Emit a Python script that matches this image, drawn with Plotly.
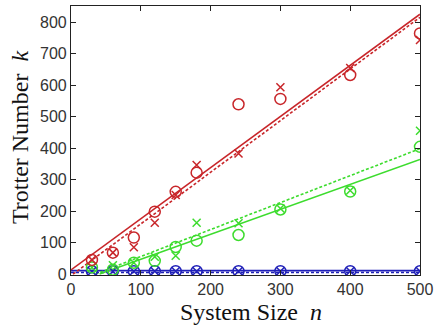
import plotly.graph_objects as go

n = [30, 60, 90, 120, 150, 180, 240, 300, 400, 500]

red_circle = [45, 68, 116, 198, 261, 322, 539, 556, 632, 764]
red_cross = [45, 68, 85, 163, 251, 346, 383, 593, 654, 743]
green_circle = [21, 14, 36, 42, 86, 106, 124, 205, 262, 404]
green_cross = [21, 28, 36, 55, 58, 163, 161, 208, 265, 455]
blue_circle = [9, 9, 9, 9, 9, 9, 9, 9, 9, 9]
blue_cross = [9, 9, 9, 9, 9, 9, 9, 9, 9, 9]

red_solid_n = [0, 500]
red_solid_k = [13, 825]
red_dash_n = [3, 500]
red_dash_k = [0, 815]
green_solid_n = [41, 500]
green_solid_k = [0, 364]
green_dash_n = [35, 500]
green_dash_k = [0, 398]
blue_solid_n = [0, 500]
blue_solid_k = [11, 11]
blue_dash_n = [0, 500]
blue_dash_k = [5, 5]

x_ticks = [0, 100, 200, 300, 400, 500]
y_ticks = [0, 100, 200, 300, 400, 500, 600, 700, 800]

RED = "#c8262a"
GREEN = "#3ddc2e"
BLUE = "#2020b8"

fig = go.Figure()

def line(xs, ys, color, dash):
    fig.add_trace(go.Scatter(x=xs, y=ys, mode="lines",
                             line=dict(color=color, width=1.6, dash=dash),
                             showlegend=False, hoverinfo="skip"))

def marks(xs, ys, color, symbol, size):
    fig.add_trace(go.Scatter(x=xs, y=ys, mode="markers",
                             marker=dict(symbol=symbol, size=size, color=color,
                                         line=dict(color=color, width=1.5)),
                             showlegend=False))

line(blue_solid_n, blue_solid_k, BLUE, "solid")
line(blue_dash_n, blue_dash_k, BLUE, "3px,2px")
line(green_solid_n, green_solid_k, GREEN, "solid")
line(green_dash_n, green_dash_k, GREEN, "3px,2px")
line(red_solid_n, red_solid_k, RED, "solid")
line(red_dash_n, red_dash_k, RED, "3px,2px")

for c, oc, xc in [(BLUE, blue_circle, blue_cross), (GREEN, green_circle, green_cross), (RED, red_circle, red_cross)]:
    marks(n, oc, c, "circle-open", 11)
    marks(n, xc, c, "x-thin-open", 8)

axis_common = dict(showgrid=False, zeroline=False, showline=True, linecolor="#222",
                   linewidth=1.2, mirror="ticks", ticks="inside", ticklen=5,
                   tickcolor="#222", tickwidth=1, automargin=False,
                   tickfont=dict(family="Liberation Sans, Arial", size=16, color="#333"))

title_font = dict(family="Liberation Serif, Times New Roman", size=24, color="#111")

fig.update_layout(
    width=443, height=333,
    margin=dict(l=71, r=23, t=6, b=58),
    plot_bgcolor="white", paper_bgcolor="white",
    xaxis=dict(range=[0, 500], tickvals=x_ticks, **axis_common),
    yaxis=dict(range=[-3, 851], tickvals=y_ticks, **axis_common),
    annotations=[
        dict(text="System Size  <i>n</i>", x=251, y=312, xref="paper", yref="paper",
             showarrow=False, font=title_font, xanchor="center", yanchor="middle"),
        dict(text="Trotter Number  <i>k</i>", x=20, y=138, xref="paper", yref="paper",
             showarrow=False, font=title_font, textangle=-90, xanchor="center", yanchor="middle"),
    ],
)

# convert pixel positions to paper coords
pw, ph = 443 - 71 - 23, 333 - 6 - 58
for a in fig.layout.annotations:
    a.x = (a.x - 71) / pw
    a.y = (333 - 58 - a.y) / ph

fig.write_html("out.html", config={"displayModeBar": False},
               post_script="document.body.style.margin='0';")
